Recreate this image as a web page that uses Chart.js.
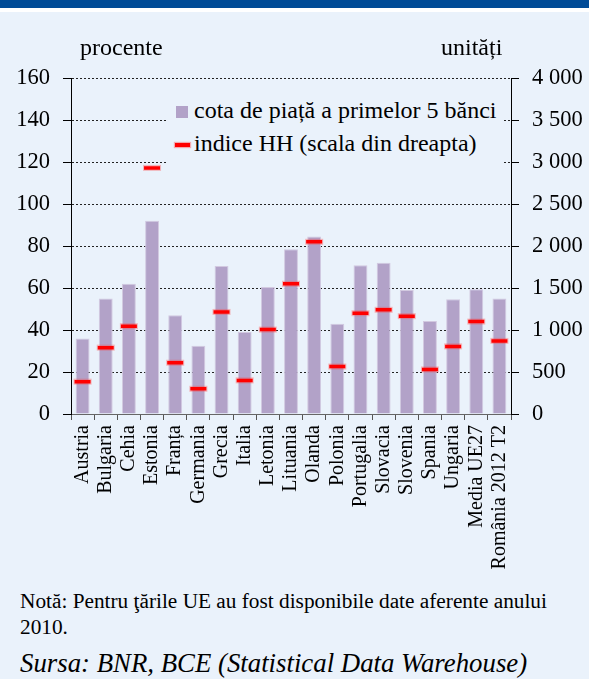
<!DOCTYPE html>
<html><head><meta charset="utf-8">
<script src="https://cdn.jsdelivr.net/npm/chart.js@4"></script>
<style>
html,body{margin:0;padding:0;}
body{width:589px;height:679px;background:#eaf2fb;position:relative;overflow:hidden;font-family:"Liberation Serif","Times New Roman",serif;color:#000;}
#topbar{position:absolute;left:0;top:0;width:589px;height:8px;background:#004b97;}
#whiteline{position:absolute;left:0;top:8px;width:589px;height:4px;background:#ffffff;}
#wrap{position:absolute;left:0;top:0;width:589px;height:580px;}
.t{position:absolute;white-space:nowrap;line-height:1;}
#legend{position:absolute;left:168px;top:96px;width:334px;height:76px;background:#eaf2fb;}
.sq{position:absolute;left:8px;top:10px;width:12px;height:12px;background:#b2a2c8;}
.dash{position:absolute;left:7px;top:47px;width:15px;height:4px;background:#ff0000;box-shadow:0 0 1px 1px rgba(255,80,80,0.45);}
</style>
</head>
<body>
<div id="topbar"></div><div id="whiteline"></div>
<div id="wrap"><canvas id="c" width="589" height="580"></canvas></div>
<div class="t" style="left:80px;top:35px;font-size:24px;">procente</div>
<div class="t" style="left:441px;top:35px;font-size:24px;">unități</div>
<div id="legend">
  <div class="sq"></div>
  <div class="t" style="left:26px;top:2px;font-size:24px;">cota de piață a primelor 5 bănci</div>
  <div class="dash"></div>
  <div class="t" style="left:26px;top:35px;font-size:24px;">indice HH (scala din dreapta)</div>
</div>
<div class="t" style="left:20px;top:588px;font-size:21.3px;line-height:26px;">Notă: Pentru ţările UE au fost disponibile date aferente anului<br>2010.</div>
<div class="t" style="left:20px;top:650px;font-size:26.8px;font-style:italic;">Sursa: BNR, BCE (Statistical Data Warehouse)</div>
<script>
const categories = ['Austria','Bulgaria','Cehia','Estonia','Franța','Germania','Grecia','Italia','Letonia','Lituania','Olanda','Polonia','Portugalia','Slovacia','Slovenia','Spania','Ungaria','Media UE27','România 2012 T2'];
const marketShare = [36,55,62,92,47,32.5,70.5,39,60.5,78.5,84.5,43,70.8,72,59,44.3,54.6,59.4,55];
const hhIndex = [385,790,1045,2930,610,300,1215,400,1005,1550,2050,565,1200,1240,1165,530,805,1100,870];
const leftTicks = ['0','20','40','60','80','100','120','140','160'];
const rightTicks = ['0','500','1 000','1 500','2 000','2 500','3 000','3 500','4 000'];

const FAMILY = '"Liberation Serif","Times New Roman",serif';
new Chart(document.getElementById('c'), {
  data: {
    labels: categories,
    datasets: [
      {type:'bar', data: marketShare, yAxisID:'y', backgroundColor:'#b2a2c8', borderColor:'#d2c9e0', borderWidth:1, barPercentage:0.6, categoryPercentage:1, order:3},
      {type:'line', data: hhIndex, yAxisID:'y1', showLine:false, pointStyle:'line', pointRadius:9, pointBorderWidth:6, pointBorderColor:'rgba(255,70,70,0.35)', order:2},
      {type:'line', data: hhIndex, yAxisID:'y1', showLine:false, pointStyle:'line', pointRadius:8, pointBorderWidth:3.5, pointBorderColor:'#ff0000', order:1}
    ]
  },
  options: {
    responsive:false, animation:false, events:[],
    layout:{padding:{top:78,left:0,right:0,bottom:0}},
    plugins:{legend:{display:false}, tooltip:{enabled:false}},
    scales:{
      x:{
        offset:true,
        grid:{drawOnChartArea:false, drawTicks:true, tickLength:6, color:'#555', offset:true},
        border:{color:'#666', width:1},
        ticks:{maxRotation:90, minRotation:90, autoSkip:false, color:'#000', font:{family:FAMILY, size:20}, padding:5},
        afterFit: s => { s.height = 166; }
      },
      y:{
        position:'left', min:0, max:160,
        ticks:{stepSize:20, callback:(v,i)=>leftTicks[i], color:'#000', font:{family:FAMILY, size:22.5}, padding:13},
        grid:{color:'#222', tickColor:'#000', tickLength:8, tickBorderDash:[]},
        border:{dash:[2,2], color:'#000'},
        afterFit: s => { s.width = 71; }
      },
      y1:{
        position:'right', min:0, max:4000,
        ticks:{stepSize:500, callback:(v,i)=>rightTicks[i], color:'#000', font:{family:FAMILY, size:22.5}, padding:13},
        grid:{drawOnChartArea:false, tickColor:'#000', tickLength:8},
        border:{color:'#000'},
        afterFit: s => { s.width = 78; }
      }
    }
  }
});
</script>
</body></html>
